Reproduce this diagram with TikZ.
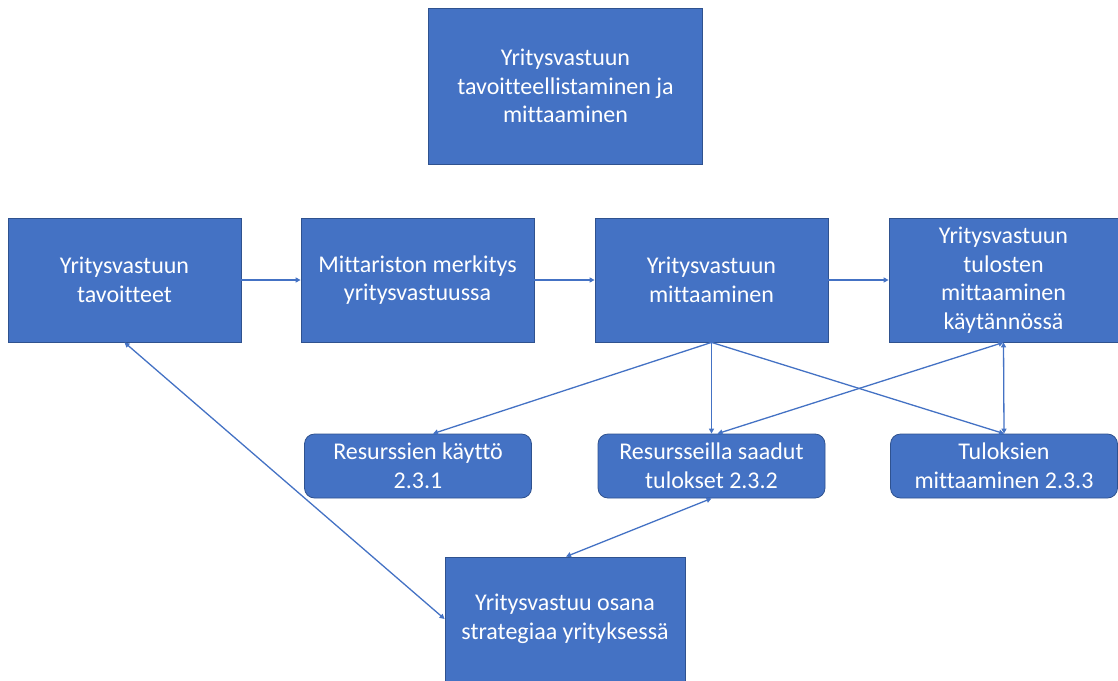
\documentclass[tikz,border=0pt]{standalone}
\usepackage{fontspec}
\setmainfont[Ligatures=NoCommon]{Carlito}
\usepackage{xcolor}
\usetikzlibrary{arrows.meta}
\definecolor{boxblue}{HTML}{4472C4}
\definecolor{boxedge}{HTML}{2F528F}

\begin{document}
\begin{tikzpicture}[x=1pt,y=-1pt]
                % Tyylit laatikoille ja nuolille
                \tikzset{
                    main box/.style={
                        rectangle,
                        fill=boxblue,
                        draw=boxedge,
                        line width=0.8pt,
                        text=white,
                        align=center,
                        font=\fontsize{24}{28.5}\selectfont,
                        inner sep=0pt
                    },
                    sub box/.style={
                        main box,
                        rounded corners=10pt,
                        minimum width=227pt,
                        minimum height=64pt
                    },
                    link/.style={
                        draw=boxblue,
                        line width=1.3pt,
                        -{Triangle[length=5pt,width=5pt]}
                    },
                    both link/.style={
                        link,
                        {Triangle[length=5pt,width=5pt]}-{Triangle[length=5pt,width=5pt]}
                    }
                }

                \useasboundingbox (0,0) rectangle (1118,680);

                % Ylin laatikko
                \node[main box, minimum width=274pt, minimum height=156pt] (goal) at (565.5,86)
                    {Yritysvastuun\\tavoitteellistaminen ja\\mittaaminen};

                % Keskimmäinen rivi
                \node[main box, minimum width=233pt, minimum height=124pt] (targets) at (124.5,280)
                    {Yritysvastuun\\tavoitteet};
                \node[main box, minimum width=233pt, minimum height=124pt] (meaning) at (417.5,280)
                    {Mittariston merkitys\\yritysvastuussa};
                \node[main box, minimum width=233pt, minimum height=124pt] (measuring) at (711.5,280)
                    {Yritysvastuun\\mittaaminen};
                \node[main box, minimum width=229pt, minimum height=124pt] (practice) at (1003.5,280)
                    {Yritysvastuun\\tulosten\\mittaaminen\\käytännössä};

                % Alaluvut
                \node[sub box] (resources) at (418,466) {Resurssien käyttö\\2.3.1};
                \node[sub box] (results) at (711.5,466) {Resursseilla saadut\\tulokset 2.3.2};
                \node[sub box] (resmeasure) at (1004,466) {Tuloksien\\mittaaminen 2.3.3};

                % Alin laatikko
                \node[main box, minimum width=240pt, minimum height=124pt] (strategy) at (565,619)
                    {Yritysvastuu osana\\strategiaa yrityksessä};

                % Nuolet
                \draw[link] (targets) -- (meaning);
                \draw[link] (meaning) -- (measuring);
                \draw[link] (measuring) -- (practice);
                \draw[link] (measuring.south) -- ([xshift=15pt]resources.north);
                \draw[link] (measuring.south) -- (results.north);
                \draw[link] (measuring.south) -- (resmeasure.north);
                \draw[both link] ([xshift=6pt]results.north) -- (practice.south);
                \draw[both link] (practice.south) -- (resmeasure.north);
                \draw[both link] (results.south) -- ([xshift=1pt]strategy.north);
                \draw[both link] (targets.south) -- (strategy.west);
\end{tikzpicture}
\end{document}
